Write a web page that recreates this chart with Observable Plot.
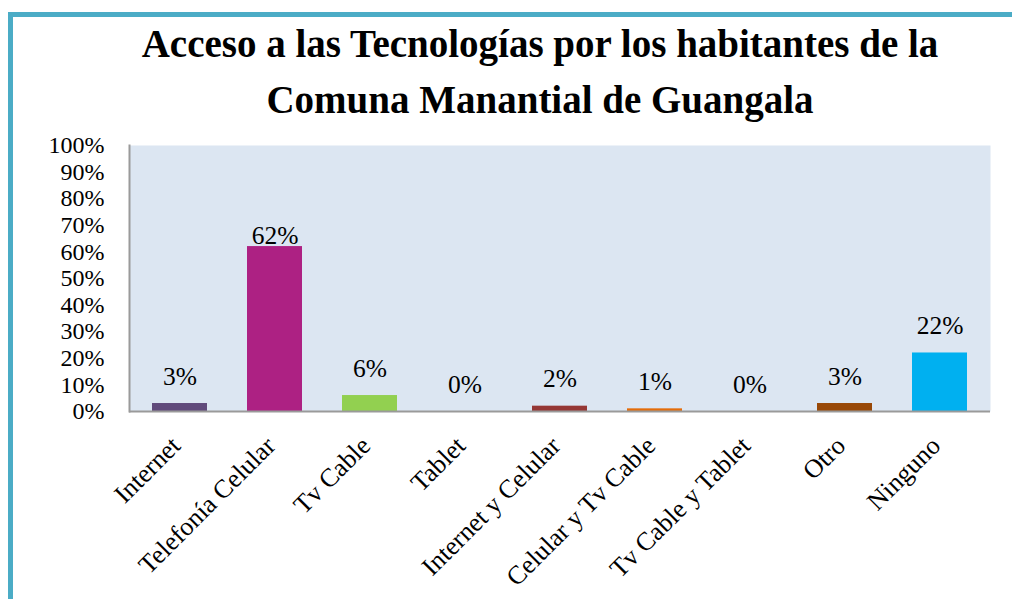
<!DOCTYPE html>
<html>
<head>
<meta charset="utf-8">
<script src="https://cdn.jsdelivr.net/npm/d3@7"></script>
<script src="https://cdn.jsdelivr.net/npm/@observablehq/plot@0.6"></script>
<style>
  html, body { margin: 0; padding: 0; background: #fff; }
  #wrap { position: relative; width: 1012px; height: 599px; overflow: hidden; }
  #frame { position: absolute; left: 8px; top: 12px; width: 1010px; height: 600px;
           border-left: 5px solid #4bacc6; border-top: 5px solid #4bacc6; box-sizing: border-box; }
  #title { position: absolute; left: 0; top: 16px; width: 1080px; text-align: center;
           font-family: "Liberation Serif", "Times New Roman", serif; font-weight: bold;
           font-size: 39px; line-height: 56px; color: #000; }
  #chart { position: absolute; left: 0; top: 120px; }
  #chart svg text { font-family: "Liberation Serif", "Times New Roman", serif !important; }
</style>
</head>
<body>
<div id="wrap">
  <div id="frame"></div>
  <div id="title">Acceso a las Tecnologías por los habitantes de la<br>Comuna Manantial de Guangala</div>
  <div id="chart"></div>
</div>
<script>
const categories = ["Internet", "Telefonía Celular", "Tv Cable", "Tablet", "Internet y Celular",
                    "Celular y Tv Cable", "Tv Cable y Tablet", "Otro", "Ninguno"];
const values = [3, 62, 6, 0, 2, 1, 0, 3, 22];
const colors = ["#604a7b", "#ad2183", "#92d050", "#4f81bd", "#953735", "#e46c0a", "#8064a2", "#984807", "#00b0f0"];
const yTicks = [0, 10, 20, 30, 40, 50, 60, 70, 80, 90, 100];

const table = categories.map((c, i) => ({cat: c, value: values[i], color: colors[i]}));
const font = "Liberation Serif";

const chart = Plot.plot({
  width: 1012,
  height: 479,
  marginTop: 25,
  marginBottom: 188,
  marginLeft: 129,
  marginRight: 22,
  style: {fontFamily: font, background: "transparent", color: "#000"},
  x: {domain: categories, paddingInner: 0.425, paddingOuter: 0.2125, axis: null},
  y: {domain: [0, 100], axis: null},
  color: {type: "identity"},
  marks: [
    Plot.frame({fill: "#dce6f2", stroke: null}),
    Plot.barY(table, {x: "cat", y: "value", fill: "color"}),
    Plot.ruleY([0], {stroke: "#9a9a9a", strokeWidth: 2}),
    Plot.frame({anchor: "left", stroke: "#9a9a9a", strokeWidth: 2}),
    Plot.axisY({ticks: yTicks, tickSize: 0, tickPadding: 25, tickFormat: d => d + "%",
                label: null, fontSize: 24, fill: "#000", fontFamily: font}),
    Plot.text(table.filter(d => d.value >= 50), {x: "cat", y: "value", text: d => d.value + "%",
                lineAnchor: "bottom", dy: -3, fontSize: 25.5, fill: "#000", fontFamily: font}),
    Plot.text(table.filter(d => d.value < 50), {x: "cat", y: "value", text: d => d.value + "%",
                lineAnchor: "bottom", dy: -19, fontSize: 25.5, fill: "#000", fontFamily: font}),
    Plot.text(categories, {x: d => d, frameAnchor: "bottom", text: d => d, rotate: -45,
                textAnchor: "end", lineAnchor: "middle", dx: -4, dy: 30, fontSize: 26,
                fill: "#000", fontFamily: font})
  ]
});
document.getElementById("chart").appendChild(chart);
</script>
</body>
</html>
